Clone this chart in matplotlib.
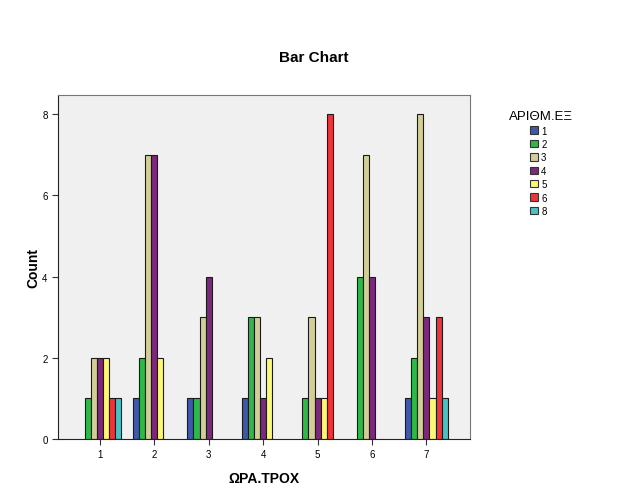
import matplotlib
matplotlib.use("Agg")
import matplotlib.pyplot as plt
import numpy as np
from matplotlib.patches import Patch

plt.rcParams['font.family'] = ['Liberation Sans', 'DejaVu Sans']

groups = [1, 2, 3, 4, 5, 6, 7]
series_labels = ['1', '2', '3', '4', '5', '6', '8']
values = {
    '1': [0, 1, 1, 1, 0, 0, 1],
    '2': [1, 2, 1, 3, 1, 4, 2],
    '3': [2, 7, 3, 3, 3, 7, 8],
    '4': [2, 7, 4, 1, 1, 4, 3],
    '5': [2, 2, 0, 2, 1, 0, 1],
    '6': [1, 0, 0, 0, 8, 0, 3],
    '8': [1, 0, 0, 0, 0, 0, 1],
}
colors = ['#3E58AC', '#2EB848', '#D3CE97', '#7B287D', '#FBF873', '#EF3338', '#48C2C5']

fig = plt.figure(figsize=(6.27, 5.02), dpi=100)
ax = fig.add_axes([0.0925, 0.1235, 0.657, 0.685])
ax.set_facecolor('#F0F0F0')

n = len(series_labels)
w = 0.112
x = np.array(groups, dtype=float)
for i, (lab, col) in enumerate(zip(series_labels, colors)):
    offs = (i - (n - 1) / 2) * w
    vals = np.array(values[lab], dtype=float)
    mask = vals > 0
    ax.bar(x[mask] + offs, vals[mask], width=w, color=col, edgecolor='#1a1a1a', linewidth=0.8)

ax.set_xlim(0.23, 7.8)
ax.set_ylim(0, 8.47)
ax.set_xticks(groups)
ax.set_xticklabels([str(g) for g in groups], fontsize=7)
ax.set_yticks([0, 2, 4, 6, 8])
ax.set_yticklabels(['0', '2', '4', '6', '8'], fontsize=7)
ax.tick_params(axis='both', direction='out', length=4, width=0.8, color='#333333')
for s in ['left', 'bottom']:
    ax.spines[s].set_color('#222222')
for s in ['top', 'right']:
    ax.spines[s].set_color('#777777')

ax.set_xlabel('ΩΡΑ.ΤΡΟΧ', fontsize=10, fontweight='bold', labelpad=8)
ax.set_ylabel('Count', fontsize=10, fontweight='bold', labelpad=1)

fig.text(0.5, 0.884, 'Bar Chart', ha='center', va='center', fontsize=11, fontweight='bold')

fig.text(0.863, 0.767, 'ΑΡΙΘΜ.ΕΞ', ha='center', va='center', fontsize=9.5)
handles = [Patch(facecolor=c, edgecolor='#333333', linewidth=0.8, label=l) for c, l in zip(colors, series_labels)]
leg = fig.legend(handles=handles, loc='upper left', bbox_to_anchor=(0.846, 0.748),
                 frameon=False, fontsize=7,
                 handlelength=0.8, handleheight=0.8, handletextpad=0.3, labelspacing=0.35,
                 borderaxespad=0, borderpad=0)
fig.savefig('out.png', dpi=100)
